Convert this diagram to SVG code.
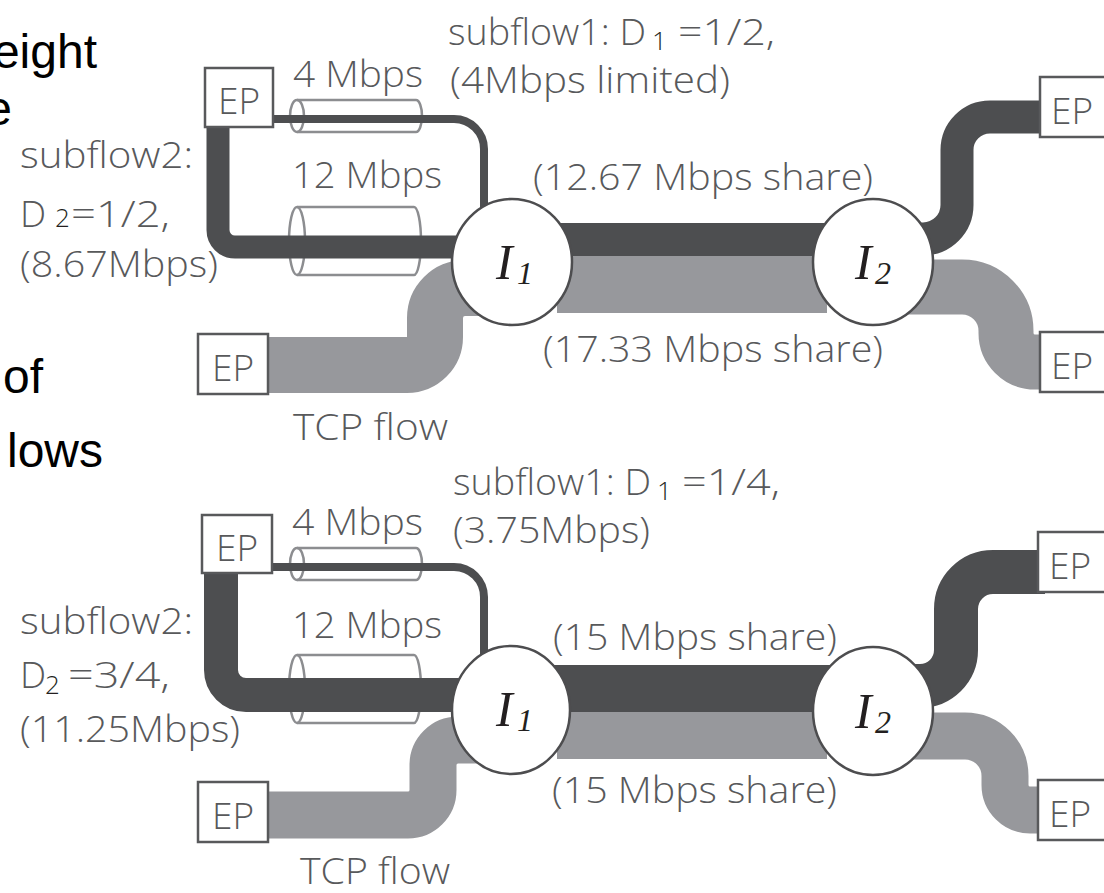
<svg xmlns="http://www.w3.org/2000/svg" width="1104" height="893" viewBox="0 0 1104 893">
  <defs>
    <style>
      .lbl { font-family: "Open Sans", "Noto Sans", sans-serif; font-weight: 350; font-size: 37px; fill: #58595b; }
      .sub { font-family: "Open Sans", "Noto Sans", sans-serif; font-weight: 350; font-size: 26px; fill: #231f20; }
      .blk { font-family: "Liberation Sans", Arial, sans-serif; font-size: 48px; fill: #000; text-anchor: end; }
      .ep rect { fill: #fff; stroke: #58595b; stroke-width: 2.5; }
      .ep text { font-family: "Open Sans", "Noto Sans", sans-serif; font-weight: 350; font-size: 37px; fill: #58595b; text-anchor: middle; }
      .node ellipse { fill: #fff; stroke: #4d4d4f; stroke-width: 2.5; }
      .ital { font-family: "Liberation Serif", "Times New Roman", serif; font-style: italic; fill: #231f20; }
      .dark { fill: none; stroke: #4d4e50; }
      .light { fill: none; stroke: #97989c; }
      .cyl { fill: none; stroke: #8c8d90; stroke-width: 2.5; }
    </style>
  </defs>
  <rect width="1104" height="893" fill="#fff"/>

  <!-- left-hand caption fragments -->
  <g id="caption">
    <text class="blk" x="97" y="68">eight</text>
    <text class="blk" x="12" y="125">e</text>
    <text class="blk" x="43" y="393">of</text>
    <text class="blk" x="103" y="467">lows</text>
  </g>

  <!-- link capacity cylinders -->
  <g id="links" class="cyl">
    <ellipse cx="297" cy="116" rx="7" ry="16"/>
    <path d="M297,100 H416 A6,16 0 0 1 416,132 H297"/>
    <ellipse cx="297" cy="241" rx="8" ry="34"/>
    <path d="M297,207 H414 A7,34 0 0 1 414,275 H297"/>
    <ellipse cx="297" cy="564" rx="7" ry="16"/>
    <path d="M297,548 H416 A6,16 0 0 1 416,580 H297"/>
    <ellipse cx="297" cy="689" rx="8" ry="34"/>
    <path d="M297,655 H414 A7,34 0 0 1 414,723 H297"/>
  </g>

  <!-- flows -->
  <g id="connectors">
    <!-- upper scenario -->
    <path class="dark" stroke-width="8" d="M272,119 H454 A30,30 0 0 1 484,149 V214"/>
    <path class="dark" stroke-width="23" d="M218,126 V230 A17,17 0 0 0 235,247 H475"/>
    <path class="light" stroke-width="56" d="M266,365 H407 A28,28 0 0 0 435,337 V318 A30,30 0 0 1 465,288 H480"/>
    <rect x="540" y="223" width="310" height="33" fill="#4d4e50"/>
    <rect x="557" y="256" width="270" height="57" fill="#97989c"/>
    <path class="dark" stroke-width="33" d="M905,239 H923 A34,34 0 0 0 957,205 V150 A33,33 0 0 1 990,117 H1045"/>
    <path class="light" stroke-width="55" d="M905,287 H962 A44,44 0 0 1 1006,331 V333 A29,29 0 0 0 1035,362 H1045"/>

    <!-- lower scenario -->
    <path class="dark" stroke-width="8" d="M271,567 H454 A30,30 0 0 1 484,597 V662"/>
    <path class="dark" stroke-width="34" d="M221,572 V670 A25,25 0 0 0 246,695 H475"/>
    <path class="light" stroke-width="47" d="M266,815 H408 A25,25 0 0 0 433,790 V765 A25,25 0 0 1 458,740 H480"/>
    <rect x="540" y="665" width="310" height="47" fill="#4d4e50"/>
    <rect x="557" y="712" width="270" height="47" fill="#97989c"/>
    <path class="dark" stroke-width="44" d="M905,686 H920 A36,36 0 0 0 956,650 V609 A37,37 0 0 1 993,572 H1045"/>
    <path class="light" stroke-width="47" d="M905,736 H965 A40,40 0 0 1 1005,776 V785 A25,25 0 0 0 1030,810 H1045"/>
  </g>

  <!-- endpoints -->
  <g id="ep-a1" class="ep"><rect x="205" y="68" width="68" height="59"/><text x="239" y="114">EP</text></g>
  <g id="ep-a2" class="ep"><rect x="198" y="334" width="70" height="60"/><text x="233" y="381">EP</text></g>
  <g id="ep-a3" class="ep"><rect x="1040" y="77" width="68" height="60"/><text x="1072" y="124">EP</text></g>
  <g id="ep-a4" class="ep"><rect x="1040" y="332" width="68" height="60"/><text x="1072" y="379">EP</text></g>
  <g id="ep-b1" class="ep"><rect x="202" y="515" width="70" height="58"/><text x="237" y="561">EP</text></g>
  <g id="ep-b2" class="ep"><rect x="198" y="782" width="70" height="60"/><text x="233" y="829">EP</text></g>
  <g id="ep-b3" class="ep"><rect x="1038" y="532" width="68" height="60"/><text x="1070" y="579">EP</text></g>
  <g id="ep-b4" class="ep"><rect x="1038" y="780" width="68" height="60"/><text x="1070" y="827">EP</text></g>

  <!-- bottleneck nodes -->
  <g id="node-a-i1" class="node">
    <ellipse cx="512" cy="262" rx="60" ry="63"/>
    <text class="ital" x="496" y="279" font-size="50">I</text>
    <text class="ital" x="517" y="284" font-size="32">1</text>
  </g>
  <g id="node-a-i2" class="node">
    <ellipse cx="873" cy="262" rx="60" ry="63"/>
    <text class="ital" x="855" y="279" font-size="50">I</text>
    <text class="ital" x="875" y="284" font-size="32">2</text>
  </g>
  <g id="node-b-i1" class="node">
    <ellipse cx="511" cy="710" rx="59" ry="64"/>
    <text class="ital" x="496" y="726" font-size="50">I</text>
    <text class="ital" x="517" y="731" font-size="32">1</text>
  </g>
  <g id="node-b-i2" class="node">
    <ellipse cx="873" cy="711" rx="60" ry="64"/>
    <text class="ital" x="855" y="728" font-size="50">I</text>
    <text class="ital" x="875" y="733" font-size="32">2</text>
  </g>

  <!-- labels: upper scenario -->
  <g id="labels-a">
    <text class="lbl" x="448" y="45" textLength="198" lengthAdjust="spacingAndGlyphs">subflow1: D</text>
    <text class="sub" x="652" y="50">1</text>
    <text class="lbl" x="678" y="45" textLength="97" lengthAdjust="spacingAndGlyphs">=1/2,</text>
    <text class="lbl" x="450" y="93" textLength="280" lengthAdjust="spacingAndGlyphs">(4Mbps limited)</text>
    <text class="lbl" x="293" y="87" textLength="130" lengthAdjust="spacingAndGlyphs">4 Mbps</text>
    <text class="lbl" x="292" y="188" textLength="150" lengthAdjust="spacingAndGlyphs">12 Mbps</text>
    <text class="lbl" x="20" y="168" textLength="173" lengthAdjust="spacingAndGlyphs">subflow2:</text>
    <text class="lbl" x="20" y="227">D</text>
    <text class="sub" x="55" y="227">2</text>
    <text class="lbl" x="71" y="227" textLength="99" lengthAdjust="spacingAndGlyphs">=1/2,</text>
    <text class="lbl" x="20" y="277" textLength="198" lengthAdjust="spacingAndGlyphs">(8.67Mbps)</text>
    <text class="lbl" x="533" y="190" textLength="340" lengthAdjust="spacingAndGlyphs">(12.67 Mbps share)</text>
    <text class="lbl" x="543" y="362" textLength="340" lengthAdjust="spacingAndGlyphs">(17.33 Mbps share)</text>
    <text class="lbl" x="293" y="440" textLength="155" lengthAdjust="spacingAndGlyphs">TCP flow</text>
  </g>

  <!-- labels: lower scenario -->
  <g id="labels-b">
    <text class="lbl" x="453" y="495" textLength="198" lengthAdjust="spacingAndGlyphs">subflow1: D</text>
    <text class="sub" x="657" y="500">1</text>
    <text class="lbl" x="682" y="495" textLength="98" lengthAdjust="spacingAndGlyphs">=1/4,</text>
    <text class="lbl" x="453" y="543" textLength="197" lengthAdjust="spacingAndGlyphs">(3.75Mbps)</text>
    <text class="lbl" x="292" y="535" textLength="131" lengthAdjust="spacingAndGlyphs">4 Mbps</text>
    <text class="lbl" x="292" y="638" textLength="150" lengthAdjust="spacingAndGlyphs">12 Mbps</text>
    <text class="lbl" x="20" y="634" textLength="173" lengthAdjust="spacingAndGlyphs">subflow2:</text>
    <text class="lbl" x="20" y="688">D</text>
    <text class="sub" x="45" y="694">2</text>
    <text class="lbl" x="68" y="688" textLength="102" lengthAdjust="spacingAndGlyphs"> =3/4,</text>
    <text class="lbl" x="20" y="742" textLength="220" lengthAdjust="spacingAndGlyphs">(11.25Mbps)</text>
    <text class="lbl" x="553" y="650" textLength="284" lengthAdjust="spacingAndGlyphs">(15 Mbps share)</text>
    <text class="lbl" x="552" y="803" textLength="285" lengthAdjust="spacingAndGlyphs">(15 Mbps share)</text>
    <text class="lbl" x="300" y="884" textLength="150" lengthAdjust="spacingAndGlyphs">TCP flow</text>
  </g>
</svg>
